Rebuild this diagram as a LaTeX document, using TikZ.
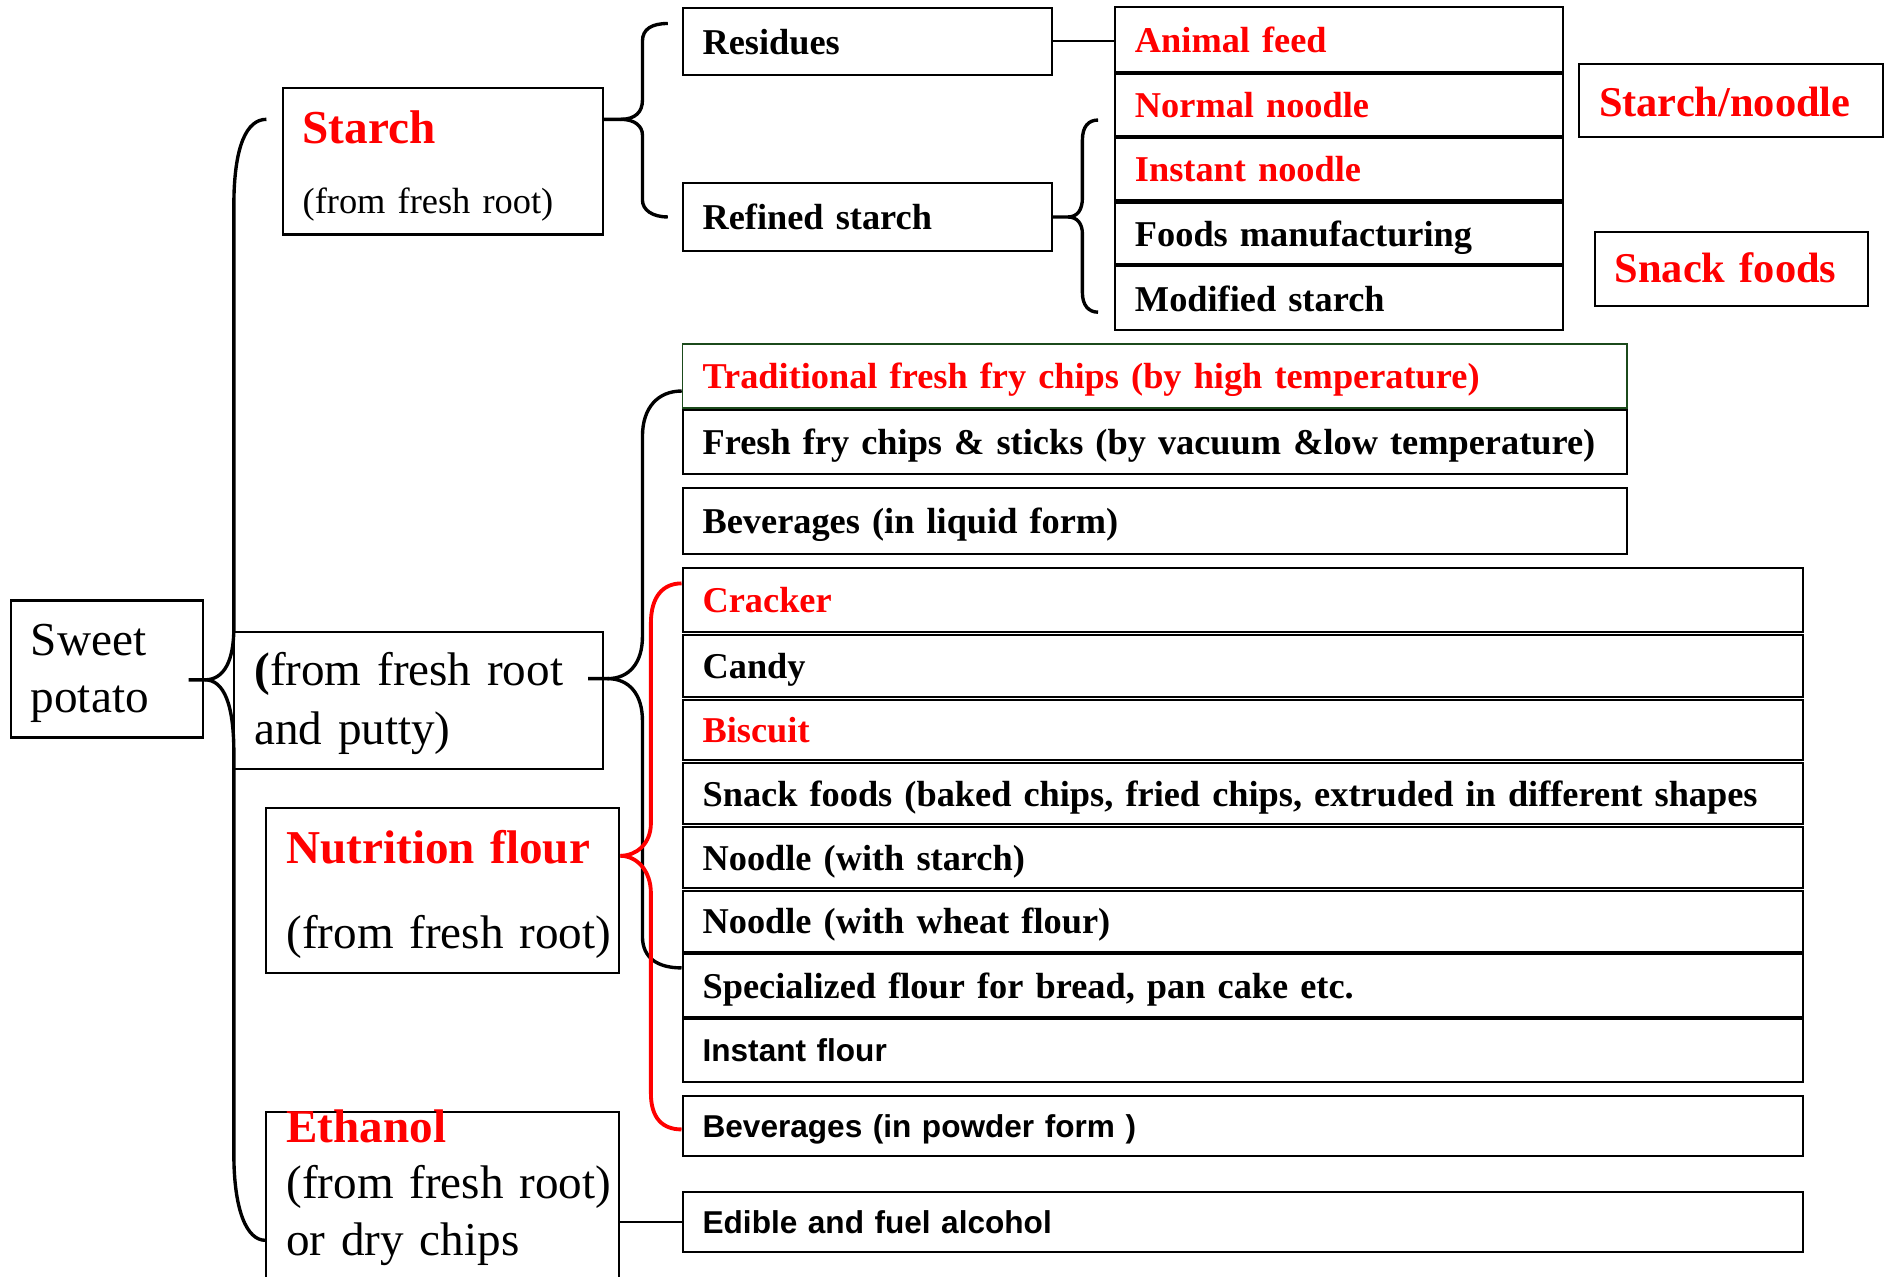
\documentclass[tikz,border=0pt]{standalone}
\usepackage{fontspec}
\setmainfont{Liberation Serif}
\setsansfont{Liberation Sans}
\usetikzlibrary{calc}
\definecolor{ink}{HTML}{000000}
\definecolor{hot}{HTML}{FF0000}
\definecolor{leaf}{HTML}{1B4A1B}
\tikzset{
  box/.style={draw=ink,line width=0.9pt,inner xsep=8.3pt,inner ysep=0pt,align=left,
    text height=10.6pt,text depth=0pt,font=\fontsize{15.07}{18}\selectfont\bfseries},
  sbox/.style={box,text height=9.3pt,font=\fontsize{13.1}{16}\selectfont\sffamily\bfseries},
  big/.style={box,text height=0pt},
  midcol/.style={box,text width=136.5pt},
  rcol/.style={box,text width=169.15pt},
  wide/.style={box,text width=375.25pt},
  wider/.style={box,text width=448.25pt},
  tag/.style={box,text=hot,font=\fontsize{17.6}{21}\selectfont\bfseries},
  brc/.style={ink,line width=1.4pt},
  rbrc/.style={hot,line width=1.6pt},
  link/.style={ink,line width=0.8pt},
}

\begin{document}
\begin{tikzpicture}[x=0.5pt,y=-0.5pt]
  \useasboundingbox (0,0) rectangle (1568,1059);
  % ===================== left column =====================
  \node[big,text width=63.2pt,minimum height=56.85pt,text depth=11pt,
        font=\fontsize{19.6}{23.75}\selectfont] (sp) at (88.7,555) {Sweet\\potato};
  \node[big,text width=116.15pt,minimum height=60.9pt,text depth=14.6pt,
        font=\fontsize{15.1}{29}\selectfont] (starch) at (367.25,133.6)
    {{\fontsize{19.6}{29}\selectfont\bfseries\color{hot}Starch}\\(from fresh root)};
  \node[big,text width=136.2pt,minimum height=57pt,text depth=12.2pt,
        font=\fontsize{19.55}{24.5}\selectfont] (putty) at (347.2,581)
    {\textbf{(}from fresh root\\and putty)};
  \node[big,text width=129.8pt,minimum height=68.5pt,text depth=22.5pt,
        font=\fontsize{19.55}{35}\selectfont] (nut) at (367.4,739)
    {{\bfseries\color{hot}Nutrition flour}\\\mbox{(from fresh root)}};
  \node[big,text width=129.8pt,minimum height=88.9pt,text depth=63.6pt,
        font=\fontsize{19.55}{23.6}\selectfont] (eth) at (367.4,1011.1)
    {{\bfseries\color{hot}Ethanol}\\\mbox{(from fresh root)}\\or dry chips};
  % ===================== starch branch =====================
  \node[midcol,minimum height=27.75pt] (res) at (719.4,34.25) {Residues};
  \node[midcol,minimum height=28pt] (refined) at (719.4,180) {Refined starch};
  \node[rcol,minimum height=26.75pt,text=hot] (feed) at (1110.75,32.75) {Animal feed};
  \node[rcol,minimum height=25.75pt,text=hot] (normal) at (1110.75,87.25) {Normal noodle};
  \node[rcol,minimum height=25.65pt,text=hot] (instant) at (1110.75,140.35) {Instant noodle};
  \node[rcol,minimum height=25.5pt] (foods) at (1110.75,193.5) {Foods manufacturing};
  \node[rcol,minimum height=26.5pt] (modified) at (1110.75,247.5) {Modified starch};
  \node[tag,text width=109.4pt,minimum height=30.25pt,text height=13pt] (snl) at (1436,83.25) {Starch/noodle};
  \node[tag,text width=96.65pt,minimum height=30.75pt,text height=11pt] (snk) at (1436.25,223.25) {Snack foods};
  % ===================== fresh root branch =====================
  \node[wide,minimum height=26.5pt,draw=leaf,line width=0.7pt,text=hot] (trad) at (958.15,312)
    {Traditional fresh fry chips (by high temperature)};
  \node[wide,minimum height=26.5pt] (fresh) at (958.15,366.5)
    {\mbox{Fresh fry chips \& sticks (by vacuum \&low temperature)}};
  \node[wide,minimum height=27.3pt] (bevl) at (958.15,432.3) {Beverages (in liquid form)};
  \node[wider,minimum height=26.25pt,text=hot] (cracker) at (1031.15,497.75) {Cracker};
  \node[wider,minimum height=25.75pt] (candy) at (1031.15,552.25) {Candy};
  \node[wider,minimum height=25pt,text=hot] (biscuit) at (1031.15,605.5) {Biscuit};
  \node[wider,minimum height=25.25pt] (snack) at (1031.15,658.25)
    {\mbox{Snack foods (baked chips, fried chips, extruded in different shapes}};
  \node[wider,minimum height=25.25pt] (noodles) at (1031.15,711.25) {Noodle (with starch)};
  \node[wider,minimum height=25.25pt] (noodlew) at (1031.15,764.25) {Noodle (with wheat flour)};
  \node[wider,minimum height=26pt] (special) at (1031.15,817.45) {Specialized flour for bread, pan cake etc.};
  \node[wider,sbox,minimum height=26pt] (iflour) at (1031.15,871.45) {Instant flour};
  \node[wider,sbox,minimum height=24.85pt] (bevp) at (1031.15,934.15) {Beverages (in powder form )};
  \node[wider,sbox,minimum height=24.7pt] (edible) at (1031.15,1013.7) {Edible and fuel alcohol};
  % ===================== braces and links =====================
  \draw[brc] ($(sp.east)+(-13,9)$) -- (170,564)
    .. controls (186,564) and (194,548) .. (194,521) -- (194,171)
    .. controls (194,120) and (205,99) .. (221,99);
  \draw[brc] (170,564) .. controls (186,564) and (194,585) .. (194,624) -- (194,957)
    .. controls (194,1005) and (205,1029) .. (eth.west |- 0,1029);
  \draw[brc] (starch.east |- 0,99) -- (515,99)
    .. controls (527,99) and (533,93) .. (533,83) -- (533,34)
    .. controls (533,24) and (541,19.5) .. (554,19.5);
  \draw[brc] (515,99) .. controls (527,99) and (533,105) .. (533,112) -- (533,166)
    .. controls (533,174) and (541,180) .. (554,180);
  \draw[brc] (refined.east) -- (886,180)
    .. controls (894,180) and (898,174) .. (898,164) -- (898,116)
    .. controls (898,105) and (903,99.6) .. (911,99.6);
  \draw[brc] (886,180) .. controls (894,180) and (898,186) .. (898,194) -- (898,243)
    .. controls (898,253) and (903,259) .. (911,259);
  \draw[brc] ($(putty.east)+(-13,-18)$) -- (504,563)
    .. controls (522,563) and (533,550) .. (533,528) -- (533,362)
    .. controls (533,338) and (546,324.4) .. (trad.west |- 0,324.4);
  \draw[brc] (504,563) .. controls (522,563) and (533,576) .. (533,598) -- (533,777)
    .. controls (533,795) and (546,803) .. (special.west |- 0,803);
  \draw[rbrc] (nut.east |- 0,710) .. controls (528,710) and (540,700) .. (540,683) -- (540,517)
    .. controls (540,495) and (550,484) .. (cracker.west |- 0,484);
  \draw[rbrc] (nut.east |- 0,710) .. controls (528,710) and (540,722) .. (540,741) -- (540,907)
    .. controls (540,928) and (550,937) .. (bevp.west |- 0,937);
  \draw[link] (res.east) -- (res.east -| feed.west);
  \draw[link] (eth.east |- edible.west) -- (edible.west);
\end{tikzpicture}
\end{document}
